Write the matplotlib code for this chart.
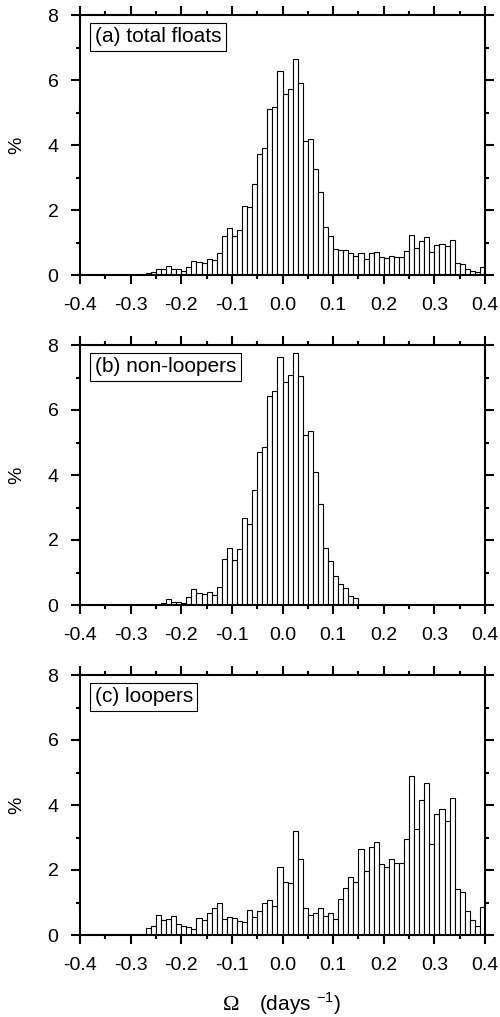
import numpy as np
import matplotlib
matplotlib.use('Agg')
import matplotlib.pyplot as plt
from matplotlib.ticker import MultipleLocator

plt.rcParams['font.family'] = ['Liberation Sans', 'DejaVu Sans']
plt.rcParams['mathtext.fontset'] = 'custom'
plt.rcParams['mathtext.rm'] = 'Liberation Sans'

# bins of width 0.01 from -0.4 to 0.4 (left edges)
bin_left = np.round(np.arange(-0.4, 0.4, 0.01), 2)
xtick_vals = [-0.4, -0.3, -0.2, -0.1, 0.0, 0.1, 0.2, 0.3, 0.4]
xtick_labels = ['-0.4', '-0.3', '-0.2', '-0.1', '0.0', '0.1', '0.2', '0.3', '0.4']

# percentages per bin
total_floats = [0]*13 + [
    0.07, 0.09, 0.17, 0.20, 0.27, 0.20, 0.17, 0.12, 0.25, 0.43,
    0.40, 0.37, 0.48, 0.46, 0.67, 1.20, 1.44, 1.20, 1.40, 2.12,
    2.08, 2.81, 3.72, 3.91, 5.12, 5.18, 6.28, 5.56, 5.71, 6.64,
    5.90, 4.13, 4.19, 3.25, 2.54, 1.47, 1.19, 0.80, 0.76, 0.76,
    0.67, 0.59, 0.67, 0.50, 0.69, 0.72, 0.55, 0.53, 0.58, 0.55,
    0.55, 0.74, 1.22, 0.82, 1.05, 1.16, 0.71, 0.92, 0.96, 0.88,
    1.07, 0.36, 0.35, 0.20, 0.12, 0.08, 0.24]

non_loopers = [0]*16 + [
    0.05, 0.18, 0.09, 0.10, 0.05, 0.24, 0.49, 0.37, 0.33, 0.39,
    0.30, 0.54, 1.42, 1.74, 1.39, 1.71, 2.67, 2.49, 3.53, 4.70,
    4.86, 6.42, 6.57, 7.62, 6.85, 7.07, 7.76, 7.05, 5.22, 5.35,
    4.09, 3.10, 1.75, 1.35, 0.89, 0.65, 0.52, 0.27, 0.23] + [0]*25

loopers = [0]*13 + [
    0.23, 0.29, 0.61, 0.47, 0.50, 0.57, 0.33, 0.29, 0.26, 0.20,
    0.53, 0.45, 0.67, 0.84, 0.98, 0.50, 0.54, 0.52, 0.42, 0.41,
    0.77, 0.54, 0.74, 0.98, 1.08, 0.88, 2.08, 1.62, 1.59, 3.19,
    2.34, 0.82, 0.62, 0.67, 0.84, 0.58, 0.67, 0.49, 1.10, 1.45,
    1.77, 1.63, 2.64, 1.96, 2.71, 2.85, 2.19, 2.10, 2.33, 2.22,
    2.22, 2.94, 4.88, 3.25, 4.16, 4.67, 2.80, 3.73, 3.87, 3.52,
    4.23, 1.41, 1.33, 0.74, 0.45, 0.29, 0.87]

panels = [('(a) total floats', total_floats),
          ('(b) non-loopers', non_loopers),
          ('(c) loopers', loopers)]

W, H = 500, 1017
fig = plt.figure(figsize=(W/100, H/100), dpi=100)

tops = [15, 345, 675]  # pixel top of each panel
for (label, vals), top in zip(panels, tops):
    ax = fig.add_axes([80/W, 1 - (top + 260)/H, 405/W, 260/H])
    ax.bar(bin_left, vals, width=0.01, align='edge', facecolor='white',
           edgecolor='black', linewidth=0.8)
    ax.set_xlim(-0.4, 0.4)
    ax.set_ylim(0, 8)
    ax.set_xticks(xtick_vals)
    ax.set_xticklabels(xtick_labels)
    ax.xaxis.set_minor_locator(MultipleLocator(0.05))
    ax.yaxis.set_major_locator(MultipleLocator(2))
    ax.yaxis.set_minor_locator(MultipleLocator(1))
    ax.tick_params(which='both', direction='out', top=True, right=True,
                   labelsize=14, width=1.5)
    ax.tick_params(which='major', length=6.5)
    ax.tick_params(which='minor', length=3)
    ax.tick_params(axis='x', pad=9)
    ax.tick_params(axis='y', pad=9)
    for s in ax.spines.values():
        s.set_linewidth(1.5)
    ax.set_ylabel('%', fontsize=14)
    ax.yaxis.set_label_coords(-0.135, 0.5)
    ax.text(0.036, 0.952, label, transform=ax.transAxes, fontsize=15,
            ha='left', va='top',
            bbox=dict(boxstyle='square,pad=0.22', facecolor='white',
                      edgecolor='black', linewidth=0.8))

# x label: serif Omega, then sans units
fig.text(231/W, 1 - 1005/H, 'Ω', family='Liberation Serif', fontsize=16,
         ha='center', va='center')
fig.text(259/W, 1 - 1004/H, '(days $^{-1}$)', fontsize=15,
         ha='left', va='center')

plt.savefig('out.png', dpi=100)
